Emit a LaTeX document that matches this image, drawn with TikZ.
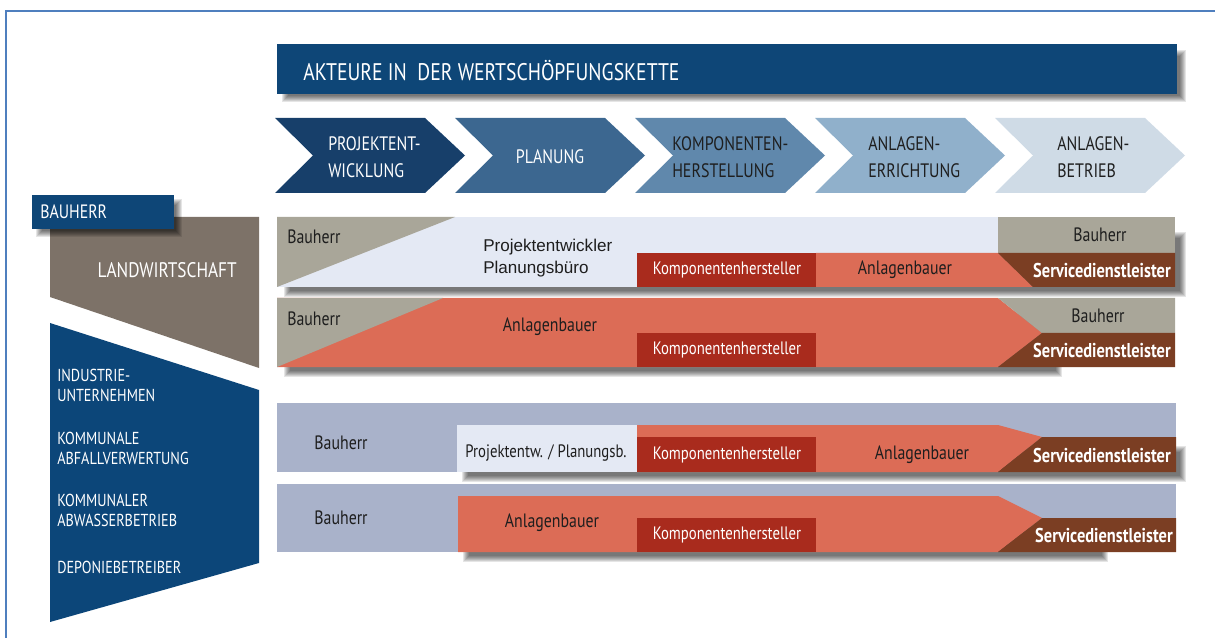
\documentclass[tikz,border=0pt]{standalone}
\usepackage{fontspec}
\newfontfamily\cond[FakeStretch=0.82]{PT Sans}
\newfontfamily\arialf{Liberation Sans}
\definecolor{hdr}{HTML}{0E4677}
\definecolor{ch1}{HTML}{173F6A}
\definecolor{ch2}{HTML}{3C6790}
\definecolor{ch3}{HTML}{6088AC}
\definecolor{ch4}{HTML}{90B0CB}
\definecolor{ch5}{HTML}{CFDBE6}
\definecolor{taupe}{HTML}{A9A699}
\definecolor{pale}{HTML}{E4E9F4}
\definecolor{salmon}{HTML}{DC6C56}
\definecolor{kred}{HTML}{A92B1D}
\definecolor{sbrown}{HTML}{7B3E23}
\definecolor{slate}{HTML}{A9B2CA}
\definecolor{lbrown}{HTML}{7D7268}
\definecolor{lblue}{HTML}{0C4679}
\definecolor{framec}{HTML}{4F7FBE}
\definecolor{dtext}{HTML}{1E1E1E}
\newcommand\softshad[4]{\foreach \k in {0,...,6}{\fill[black,opacity=0.1] ({#1+\k},{#2+\k}) rectangle ({#3-\k},{#4-\k});}}
\newcommand\chev[2]{\fill[#2] (#1,118) -- ({#1+150},118) -- ({#1+190},155.5) -- ({#1+150},193) -- (#1,193) -- ({#1+38},155.5) -- cycle;}
\tikzset{
  txt/.style={inner sep=0pt, font=\cond\fontsize{13.5}{15}\selectfont, text=dtext},
  btxt/.style={txt, font=\cond\fontsize{14.5}{16}\selectfont},
  wtxt/.style={txt, text=white},
  stxt/.style={inner sep=0pt, font=\cond\bfseries\fontsize{15}{17}\selectfont, text=white},
  chtxt/.style={inner sep=0pt, align=left, font=\cond\fontsize{14.6}{20}\selectfont},
  ltxt/.style={inner sep=0pt, align=left, anchor=west, text=white, font=\cond\fontsize{13}{15}\selectfont},
}
\begin{document}
\begin{tikzpicture}[x=0.75pt,y=-0.75pt]
\useasboundingbox (0,0) rectangle (1215,638);
% frame
\draw[framec, line width=1.2pt] (6,638) -- (6,11) -- (1215,11);
% header
\softshad{282}{50}{1186}{102}
\fill[hdr] (277,44) rectangle (1177,94);
\node[anchor=west, inner sep=0pt, text=white, font=\cond\fontsize{18}{20}\selectfont] (title) at (303,71) {AKTEURE IN\ \ DER WERTSCHÖPFUNGSKETTE};
% chevrons
\chev{275}{ch1}
\chev{455}{ch2}
\chev{635}{ch3}
\chev{815}{ch4}
\chev{995}{ch5}
\node[chtxt, anchor=west, text=white] (c1) at (328,157) {PROJEKTENT-\\WICKLUNG};
\node[chtxt, text=white] (c2) at (550,157) {PLANUNG};
\node[chtxt, anchor=west, text=dtext] (c3) at (672,157) {KOMPONENTEN-\\HERSTELLUNG};
\node[chtxt, anchor=west, text=dtext] (c4) at (868,157) {ANLAGEN-\\ERRICHTUNG};
\node[chtxt, anchor=west, text=dtext] (c5) at (1057,157) {ANLAGEN-\\BETRIEB};
% left side
\fill[lbrown] (50,217) -- (259,217) -- (259,368) -- (50,297) -- cycle;
\fill[lblue] (50,323) -- (259,390) -- (259,563) -- (50,622) -- cycle;
\softshad{36}{199}{182}{237}
\fill[hdr] (32,195) rectangle (174,229);
\node[ltxt, font=\cond\fontsize{14.5}{16}\selectfont] (bh) at (40,212) {BAUHERR};
\node[inner sep=0pt, anchor=east, text=white, font=\cond\fontsize{15.8}{17}\selectfont] (lw) at (237,270) {LANDWIRTSCHAFT};
\node[ltxt] (l1) at (57,385) {INDUSTRIE-\\UNTERNEHMEN};
\node[ltxt] (l2) at (57,448) {KOMMUNALE\\ABFALLVERWERTUNG};
\node[ltxt] (l3) at (57,510) {KOMMUNALER\\ABWASSERBETRIEB};
\node[ltxt] (l4) at (57,567) {DEPONIEBETREIBER};
% row 1
\softshad{284}{232}{1186}{297}
\fill[pale] (277,217) rectangle (998,287);
\fill[taupe] (277,217) -- (455,217) -- (277,287) -- cycle;
\fill[taupe] (998,217) rectangle (1175,253);
\fill[kred] (637,253) rectangle (816,287);
\fill[salmon] (816,253) -- (998,253) -- (1033,287) -- (816,287) -- cycle;
\fill[sbrown] (998,253) -- (1175,253) -- (1175,287) -- (1033,287) -- cycle;
\node[btxt, anchor=west] (r1a) at (287,237) {Bauherr};
\node[inner sep=0pt, anchor=west, align=left, text=dtext, font=\arialf\fontsize{12.8}{17}\selectfont] (r1b) at (483,258) {Projektentwickler\\Planungsbüro};
\node[wtxt] (r1c) at (727,270) {Komponentenhersteller};
\node[btxt] (r1d) at (905,270) {Anlagenbauer};
\node[btxt] (r1e) at (1100,235) {Bauherr};
\node[stxt] (r1f) at (1102,270) {Servicedienstleister};
% row 2
\softshad{284}{310}{1062}{377}
\fill[salmon] (277,298) -- (998,298) -- (1042,333) -- (998,367) -- (277,367) -- cycle;
\fill[taupe] (277,298) -- (443,298) -- (277,367) -- cycle;
\fill[taupe] (998,298) -- (1175,298) -- (1175,333) -- (1042,333) -- cycle;
\fill[sbrown] (1042,333) -- (1175,333) -- (1175,367) -- (998,367) -- cycle;
\fill[kred] (637,333) rectangle (816,367);
\node[btxt, anchor=west] (r2a) at (287,319) {Bauherr};
\node[btxt] (r2b) at (550,327) {Anlagenbauer};
\node[wtxt] (r2c) at (727,350) {Komponentenhersteller};
\node[btxt] (r2d) at (1098,316) {Bauherr};
\node[stxt] (r2e) at (1102,350) {Servicedienstleister};
% row 3
\fill[slate] (277,403) rectangle (1176,472);
\softshad{462}{446}{1186}{482}
\fill[salmon] (637,425) -- (998,425) -- (1042,437) -- (998,472) -- (637,472) -- cycle;
\fill[pale] (457,425) rectangle (637,472);
\fill[kred] (637,437) rectangle (816,472);
\fill[sbrown] (1042,437) -- (1176,437) -- (1176,472) -- (998,472) -- cycle;
\node[btxt] (r3a) at (341,443) {Bauherr};
\node[txt] (r3b) at (546,453) {Projektentw. / Planungsb.};
\node[wtxt] (r3c) at (727,455) {Komponentenhersteller};
\node[btxt] (r3d) at (922,455) {Anlagenbauer};
\node[stxt] (r3e) at (1102,455) {Servicedienstleister};
% row 4
\fill[slate] (277,484) rectangle (1176,552);
\softshad{463}{526}{1108}{562}
\fill[salmon] (458,496) -- (998,496) -- (1042,518) -- (998,552) -- (458,552) -- cycle;
\fill[kred] (637,518) rectangle (816,552);
\fill[sbrown] (1042,518) -- (1176,518) -- (1176,552) -- (998,552) -- cycle;
\node[btxt] (r4a) at (341,518) {Bauherr};
\node[btxt] (r4b) at (552,523) {Anlagenbauer};
\node[wtxt] (r4c) at (727,535) {Komponentenhersteller};
\node[stxt] (r4d) at (1104,535) {Servicedienstleister};
\end{tikzpicture}
\end{document}
